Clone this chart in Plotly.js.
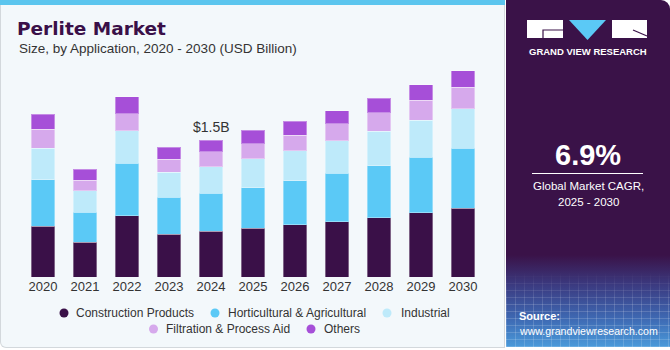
<!DOCTYPE html>
<html>
<head>
<meta charset="utf-8">
<script src="https://cdn.plot.ly/plotly-3.0.1.min.js"></script>
<style>
  html, body { margin:0; padding:0; background:#ffffff; }
  #wrap { position:relative; width:670px; height:350px; overflow:hidden; }
  #card { position:absolute; left:0; top:0; width:505px; height:348px; background:#F3F8FB;
          border:1px solid #d3d8dc; border-top:none; border-radius:0 0 0 6px; box-sizing:border-box; }
  #strip { position:absolute; left:0; top:0; width:505px; height:5px; background:#5BC5EE; }
  #panel { position:absolute; left:506px; top:0; width:164px; height:347px; border-radius:0 9px 0 0;
           background:linear-gradient(to bottom, #3A1248 0px, #3A1248 255px, #3B3A80 285px, #3E68B2 318px, #4A9ADA 347px); overflow:hidden; }
  #mesh { position:absolute; left:0; top:272px; width:164px; height:75px;
          background-image:repeating-linear-gradient(0deg, rgba(255,255,255,0.16) 0px, rgba(255,255,255,0.16) 1px, transparent 1px, transparent 7px),
                           repeating-linear-gradient(90deg, rgba(255,255,255,0.16) 0px, rgba(255,255,255,0.16) 1px, transparent 1px, transparent 9px);
          -webkit-mask-image:linear-gradient(to bottom, transparent 0%, black 45%); mask-image:linear-gradient(to bottom, transparent 0%, black 45%); }
  #chart { position:absolute; left:0; top:0; width:670px; height:350px; }
</style>
</head>
<body>
<div id="wrap">
  <div id="card"></div>
  <div id="strip"></div>
  <div id="panel"><div id="mesh"></div></div>
  <div id="chart"></div>
</div>
<script>
// ---- data (USD Billion) ----
const years = ['2020','2021','2022','2023','2024','2025','2026','2027','2028','2029','2030'];
const construction = [0.556, 0.384, 0.673, 0.472, 0.502, 0.535, 0.571, 0.607, 0.651, 0.703, 0.757];
const horticultural = [0.512, 0.326, 0.575, 0.406, 0.417, 0.446, 0.483, 0.531, 0.571, 0.611, 0.655];
const industrial = [0.345, 0.237, 0.355, 0.274, 0.289, 0.315, 0.333, 0.355, 0.378, 0.406, 0.436];
const filtration = [0.209, 0.114, 0.190, 0.139, 0.165, 0.165, 0.169, 0.187, 0.204, 0.220, 0.237];
const others = [0.165, 0.121, 0.183, 0.132, 0.128, 0.150, 0.154, 0.146, 0.158, 0.168, 0.180];
const seriesNames = ['Construction Products', 'Horticultural & Agricultural', 'Industrial', 'Filtration & Process Aid', 'Others'];
const seriesColors = ['#3A1048', '#5BC9F6', '#BEEAFA', '#D6A9EC', '#A64FD8'];
const highlightYear = '2024';
const highlightLabel = '&#36;1.5B';
const cagrText = '6.9%';

// ---- geometry helpers (pixel -> paper) ----
const L = 22, W = 462, B = 277, H = 217;
const px = x => (x - L) / W;
const py = y => (B - y) / H;

const allSeries = [construction, horticultural, industrial, filtration, others];
const traces = allSeries.map((vals, i) => ({
  type: 'bar', x: years, y: vals, name: seriesNames[i],
  marker: { color: seriesColors[i], line: { width: 1, color: 'rgba(255,255,255,0.35)' } },
  showlegend: false, hoverinfo: 'skip'
}));

const totals = years.map((_, j) => allSeries.reduce((s, a) => s + a[j], 0));
const hi = years.indexOf(highlightYear);

const font = 'Liberation Sans, Arial, sans-serif';
const annotations = [
  { xref:'x', yref:'y', x: hi, y: totals[hi], text: highlightLabel, showarrow:false,
    xanchor:'center', yanchor:'bottom', yshift: 3, font:{ family:font, size:14, color:'#333333' } },
  { xref:'paper', yref:'paper', x: px(17), y: py(48), xanchor:'left', yanchor:'middle', showarrow:false,
    text:'Size, by Application, 2020 - 2030 (USD Billion)', font:{ family:font, size:13.5, color:'#333333' } },
  // right panel
  { xref:'paper', yref:'paper', x: px(588), y: py(51), xanchor:'center', yanchor:'middle', showarrow:false,
    text:'GRAND VIEW RESEARCH', font:{ family:font, size:9.5, color:'#ffffff', weight:'bold' } },
  { xref:'paper', yref:'paper', x: px(588), y: py(155), xanchor:'center', yanchor:'middle', showarrow:false,
    text: cagrText, font:{ family:font, size:29, color:'#ffffff', weight:'bold' } },
  { xref:'paper', yref:'paper', x: px(588), y: py(186), xanchor:'center', yanchor:'middle', showarrow:false,
    text:'Global Market CAGR,', font:{ family:font, size:11.5, color:'#ffffff' } },
  { xref:'paper', yref:'paper', x: px(588), y: py(201.5), xanchor:'center', yanchor:'middle', showarrow:false,
    text:'2025 - 2030', font:{ family:font, size:11.5, color:'#ffffff' } },
  { xref:'paper', yref:'paper', x: px(517), y: py(316), xanchor:'left', yanchor:'middle', showarrow:false,
    text:'Source:', font:{ family:font, size:11, color:'#ffffff', weight:'bold' } },
  { xref:'paper', yref:'paper', x: px(517), y: py(330.5), xanchor:'left', yanchor:'middle', showarrow:false,
    text:'www.grandviewresearch.com', font:{ family:font, size:10.6, color:'#ffffff' } }
];

// manual legend
const legendItems = [
  { dot:64, text:74, row:313 }, { dot:215, text:225.5, row:313 }, { dot:387, text:398.5, row:313 },
  { dot:153.5, text:164, row:329 }, { dot:311, text:321.5, row:329 }
];
const shapes = [];
legendItems.forEach((it, i) => {
  shapes.push({ type:'circle', xref:'paper', yref:'paper', x0:px(it.dot-4.5), x1:px(it.dot+4.5),
    y0:py(it.row+4.5), y1:py(it.row-4.5), fillcolor:seriesColors[i], line:{ width:0 } });
  annotations.push({ xref:'paper', yref:'paper', x:px(it.text), y:py(it.row), xanchor:'left', yanchor:'middle',
    showarrow:false, text:seriesNames[i].replace('&','&amp;'), font:{ family:font, size:12, color:'#333333' } });
});

// logo
shapes.push({ type:'rect', xref:'paper', yref:'paper', x0:px(527), x1:px(563), y0:py(38), y1:py(20), fillcolor:'#ffffff', line:{width:0} });
shapes.push({ type:'path', xref:'paper', yref:'paper', path:`M ${px(543)},${py(38)} L ${px(543)},${py(30)} L ${px(563)},${py(30)}`, line:{ color:'#3A1248', width:1.2 } });
shapes.push({ type:'path', xref:'paper', yref:'paper', path:`M ${px(569)},${py(20)} L ${px(606)},${py(20)} L ${px(587.5)},${py(40)} Z`, fillcolor:'#5BC9F6', line:{width:0} });
shapes.push({ type:'rect', xref:'paper', yref:'paper', x0:px(612), x1:px(647), y0:py(38), y1:py(20), fillcolor:'#ffffff', line:{width:0} });
shapes.push({ type:'path', xref:'paper', yref:'paper', path:`M ${px(633)},${py(30)} L ${px(647)},${py(36)}`, line:{ color:'#3A1248', width:1.2 } });
// CAGR underline
shapes.push({ type:'line', xref:'paper', yref:'paper', x0:px(532), x1:px(643), y0:py(173.5), y1:py(173.5), line:{ color:'#ffffff', width:1 } });

const layout = {
  width: 670, height: 350,
  margin: { l: L, r: 670 - L - W, t: B - H, b: 350 - B, pad: 0 },
  paper_bgcolor: 'rgba(0,0,0,0)', plot_bgcolor: 'rgba(0,0,0,0)',
  barmode: 'stack', bargap: 0.43,
  showlegend: false,
  title: { text: 'Perlite Market', xref:'container', yref:'container', x: 17/670, xanchor:'left',
           y: 1 - 29/350, yanchor:'middle', font: { family:'DejaVu Sans, sans-serif', size:18.5, color:'#3A1048', weight:'bold' } },
  xaxis: { type:'category', range:[-0.5, 10.5], showgrid:false, zeroline:false, showline:false, ticks:'',
           tickfont:{ family:font, size:13, color:'#333333' }, fixedrange:true },
  yaxis: { range:[0, H/91.1], showticklabels:false, showgrid:false, zeroline:false, showline:false, ticks:'', fixedrange:true },
  annotations: annotations,
  shapes: shapes
};

Plotly.newPlot('chart', traces, layout, { displayModeBar:false, staticPlot:true });
</script>
</body>
</html>
